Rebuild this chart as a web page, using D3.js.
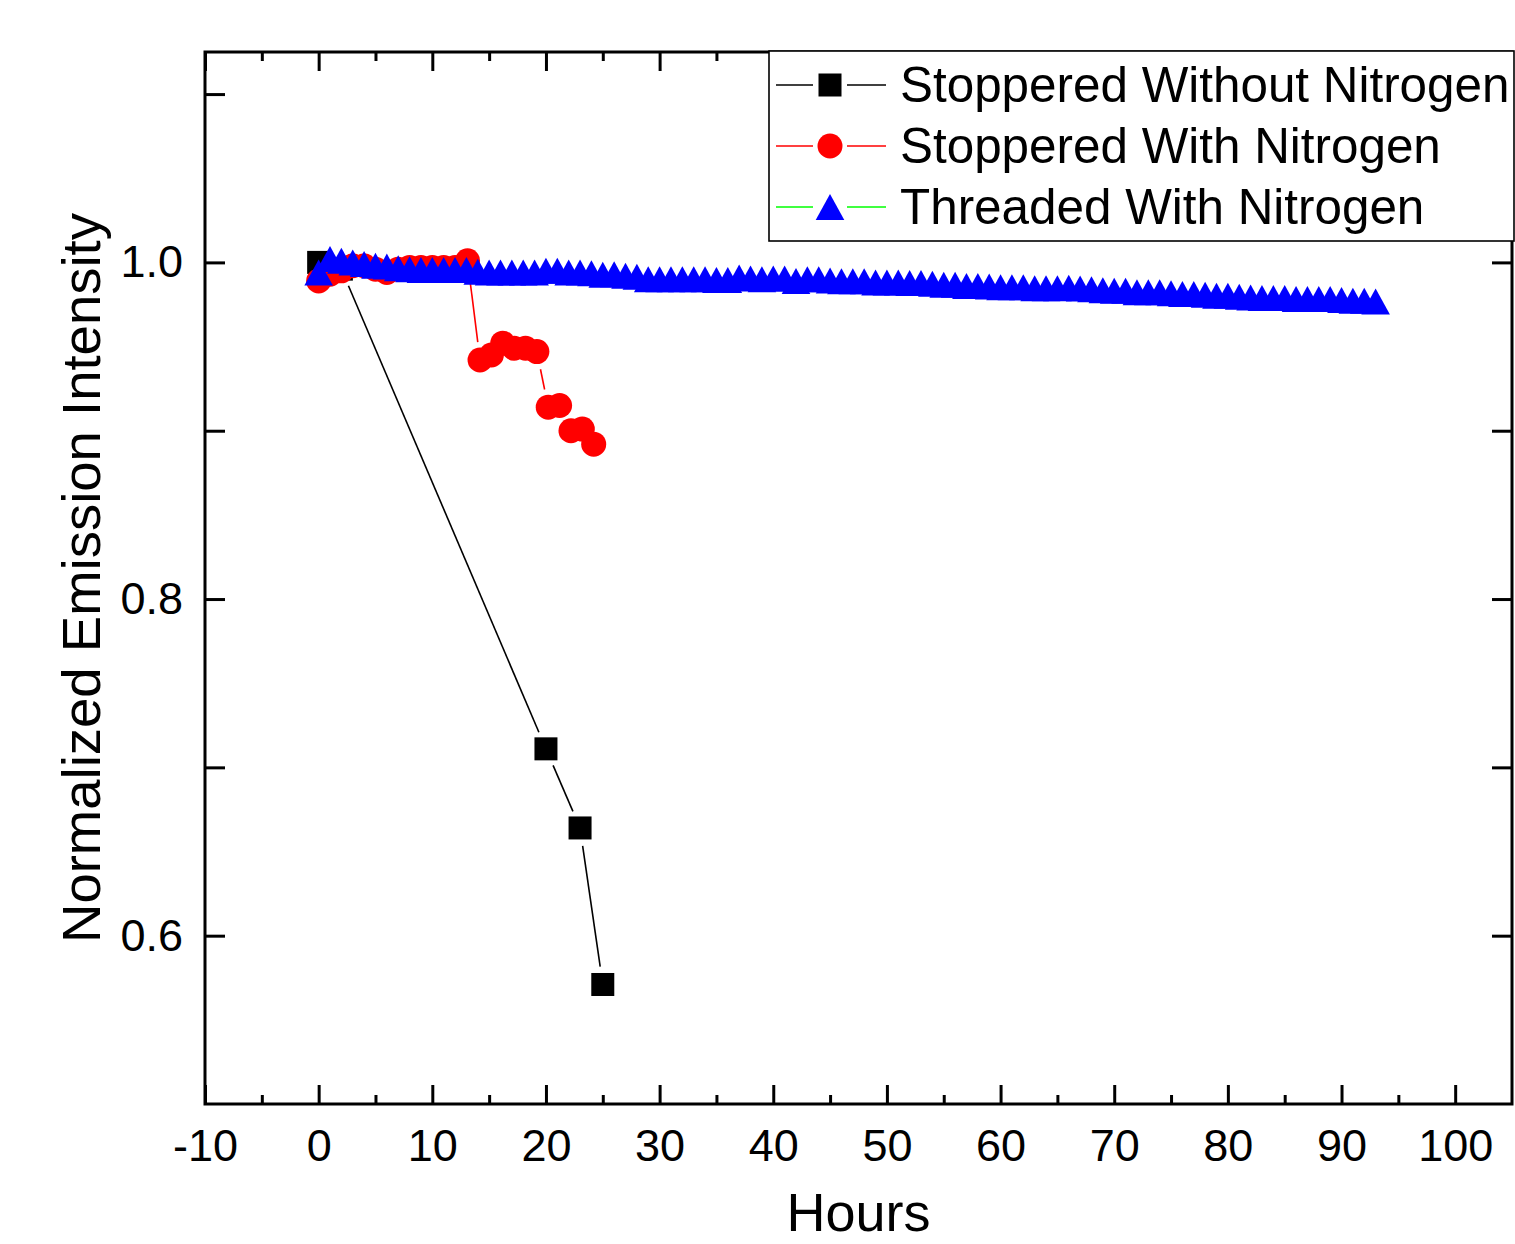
<!DOCTYPE html>
<html>
<head>
<meta charset="utf-8">
<script src="https://cdn.jsdelivr.net/npm/d3@7"></script>
<style>
html,body{margin:0;padding:0;background:#fff;}
svg{display:block;}
text{font-family:"Liberation Sans",Arial,sans-serif;fill:#000;}
</style>
</head>
<body>
<svg id="chart" width="1515" height="1244"></svg>
<script>
// ---------------- data ----------------
const seriesNames = ["Stoppered Without Nitrogen", "Stoppered With Nitrogen", "Threaded With Nitrogen"];

const blackHours = [0, 2, 20, 23, 25];
const blackValues = [1.000, 0.996, 0.711, 0.664, 0.571];

const redHours = [0,1,2,3,4,5,6,7,8,9,10,11,12,13.1,14.2,15.2,16.2,17.2,18.2,19.2,20.2,21.2,22.2,23.2,24.2];
const redValues = [0.989,0.993,0.995,0.998,0.998,0.996,0.994,0.996,0.997,0.997,0.997,0.997,0.997,1.001,
                   0.942,0.945,0.952,0.949,0.949,0.947,0.914,0.915,0.900,0.901,0.892];

const blueHours = [0,1,2,3,4,5,6,7,8,9,10,11,12,13,14,15,16,17,18,19,20,21,22,23,24,25,26,27,28,29,
                   30,31,32,33,34,35,36,37,38,39,40,41,42,43,44,45,46,47,48,49,50,51,52,53,54,55,56,57,58,59,
                   60,61,62,63,64,65,66,67,68,69,70,71,72,73,74,75,76,77,78,79,80,81,82,83,84,85,86,87,88,89,
                   90,91,92,93];
const blueValues = [0.994,1.002,1.001,1.000,0.999,0.998,0.9975,0.9965,0.996,0.9955,0.9955,0.9955,0.9955,0.9955,
                    0.9945,0.994,0.994,0.994,0.994,0.994,0.995,0.995,0.994,0.994,0.9935,0.9927,0.993,0.992,
                    0.9915,0.990,0.990,0.990,0.990,0.990,0.990,0.9895,0.9895,0.991,0.9905,0.990,0.9905,0.9905,
                    0.989,0.990,0.990,0.9893,0.9888,0.9888,0.9888,0.988,0.988,0.988,0.9877,0.9877,0.9873,0.9867,
                    0.9867,0.986,0.986,0.9857,0.9853,0.9853,0.9853,0.9847,0.9847,0.9847,0.9850,0.9845,
                    0.9841,0.9835,0.9832,0.9832,0.9822,0.9822,0.9822,0.9816,0.9812,0.9812,0.9808,0.9802,0.9802,0.9796,
                    0.9792,0.9788,0.9788,0.9788,0.9782,0.9782,0.9782,0.9782,0.9776,0.9772,0.9772,0.9768];

const xMajorTicks = [-10,0,10,20,30,40,50,60,70,80,90,100];
const xMinorTicks = [-5,5,15,25,35,45,55,65,75,85,95];
const yTicks = [0.6,0.7,0.8,0.9,1.0,1.1];
const yLabelTicks = [0.6,0.8,1.0];
const xTitle = "Hours";
const yTitle = "Normalized Emission Intensity";

// ---------------- layout ----------------
const L = 205, R = 1512, T = 52, B = 1104;
const svg = d3.select("#chart");

const x = d3.scaleLinear().domain([-10, 105]).range([L, R]);
const y = d3.scaleLinear().domain([0.5, 1.125]).range([B, T]);

const FS_TICK = 45;

// bottom axis major
const gB = svg.append("g").attr("transform", `translate(0,${B})`)
  .call(d3.axisBottom(x).tickValues(xMajorTicks).tickSizeInner(-19).tickSizeOuter(0).tickPadding(25)
        .tickFormat(d => String(d)));
const gBm = svg.append("g").attr("transform", `translate(0,${B})`)
  .call(d3.axisBottom(x).tickValues(xMinorTicks).tickSizeInner(-9).tickSizeOuter(0).tickFormat(""));
// top axis
const gT = svg.append("g").attr("transform", `translate(0,${T})`)
  .call(d3.axisTop(x).tickValues(xMajorTicks).tickSizeInner(-19).tickSizeOuter(0).tickFormat(""));
const gTm = svg.append("g").attr("transform", `translate(0,${T})`)
  .call(d3.axisTop(x).tickValues(xMinorTicks).tickSizeInner(-9).tickSizeOuter(0).tickFormat(""));
// left axis
const gL = svg.append("g").attr("transform", `translate(${L},0)`)
  .call(d3.axisLeft(y).tickValues(yTicks).tickSizeInner(-20).tickSizeOuter(0).tickPadding(22)
        .tickFormat(d => yLabelTicks.some(v => Math.abs(v - d) < 1e-9) ? d3.format(".1f")(d) : ""));
// right axis
const gR = svg.append("g").attr("transform", `translate(${R},0)`)
  .call(d3.axisRight(y).tickValues(yTicks).tickSizeInner(-20).tickSizeOuter(0).tickFormat(""));

[gB, gBm, gT, gTm, gL, gR].forEach(g => {
  g.select(".domain").remove();
  g.selectAll(".tick line").attr("stroke", "#000").attr("stroke-width", 3);
  g.selectAll(".tick text").attr("font-size", FS_TICK).attr("font-family", "Liberation Sans, Arial, sans-serif").attr("fill", "#000");
});

// frame
svg.append("rect").attr("x", L).attr("y", T).attr("width", R - L).attr("height", B - T)
  .attr("fill", "none").attr("stroke", "#000").attr("stroke-width", 3);

// titles
svg.append("text").attr("x", (L + R) / 2).attr("y", 1231).attr("text-anchor", "middle")
  .attr("font-size", 54).text(xTitle);
svg.append("text").attr("transform", `translate(100,${(T + B) / 2}) rotate(-90)`)
  .attr("text-anchor", "middle").attr("font-size", 54.5).text(yTitle);

// ---------------- markers ----------------
const SQ = 23, CR = 12.5, TW = 28.6, TH = 26, GAP = 18;
function drawMarker(g, shape, color, cx, cy) {
  if (shape === "square") {
    g.append("rect").attr("x", cx - SQ / 2).attr("y", cy - SQ / 2).attr("width", SQ).attr("height", SQ).attr("fill", color);
  } else if (shape === "circle") {
    g.append("circle").attr("cx", cx).attr("cy", cy).attr("r", CR).attr("fill", color);
  } else {
    g.append("path").attr("d", `M${cx},${cy - TH / 2}L${cx + TW / 2},${cy + TH / 2}L${cx - TW / 2},${cy + TH / 2}Z`).attr("fill", color);
  }
}
function gappedSegments(g, pts, color) {
  for (let i = 0; i < pts.length - 1; i++) {
    const [x1, y1] = pts[i], [x2, y2] = pts[i + 1];
    const dx = x2 - x1, dy = y2 - y1, d = Math.hypot(dx, dy);
    if (d <= 2 * GAP) continue;
    const ux = dx / d, uy = dy / d;
    g.append("line").attr("x1", x1 + ux * GAP).attr("y1", y1 + uy * GAP)
      .attr("x2", x2 - ux * GAP).attr("y2", y2 - uy * GAP)
      .attr("stroke", color).attr("stroke-width", 1.6);
  }
}

const series = [
  {hours: blackHours, values: blackValues, shape: "square", marker: "#000000", line: "#000000"},
  {hours: redHours, values: redValues, shape: "circle", marker: "#ff0000", line: "#ff0000"},
  {hours: blueHours, values: blueValues, shape: "triangle", marker: "#0000ff", line: "#00ff00"}
];

const plot = svg.append("g");
series.forEach(s => {
  const g = plot.append("g");
  const pts = s.hours.map((h, i) => [x(h), y(s.values[i])]);
  gappedSegments(g, pts, s.line);
  pts.forEach(p => drawMarker(g, s.shape, s.marker, p[0], p[1]));
});

// ---------------- legend ----------------
const lg = svg.append("g");
lg.append("rect").attr("x", 769).attr("y", 51).attr("width", 745).attr("height", 190)
  .attr("fill", "#fff").attr("stroke", "#000").attr("stroke-width", 1.6);
series.forEach((s, i) => {
  const cy = 85 + i * 61;
  lg.append("line").attr("x1", 776).attr("x2", 813).attr("y1", cy).attr("y2", cy).attr("stroke", s.line).attr("stroke-width", 1.6);
  lg.append("line").attr("x1", 847).attr("x2", 886).attr("y1", cy).attr("y2", cy).attr("stroke", s.line).attr("stroke-width", 1.6);
  drawMarker(lg, s.shape, s.marker, 830, cy);
  lg.append("text").attr("x", 900).attr("y", cy + 17).attr("font-size", 49.4).text(seriesNames[i]);
});
</script>
</body>
</html>
